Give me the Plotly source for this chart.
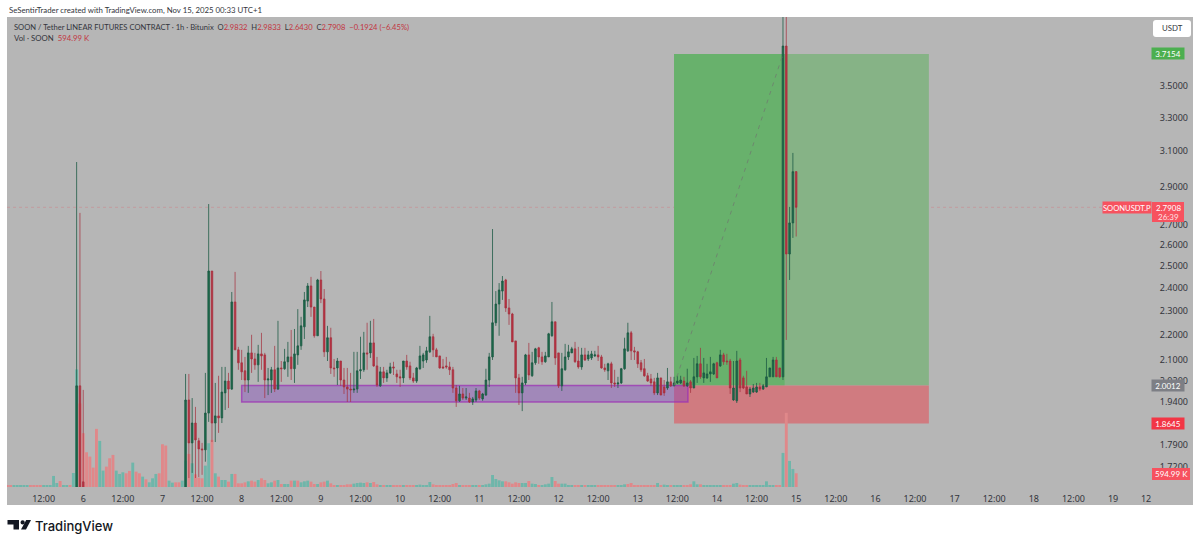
import math
from datetime import datetime, timedelta

import plotly.graph_objects as go

BASE = datetime(2025, 11, 6)

# OHLC of the hourly bars: the three listing bars, then hour 31 onward (hours counted from Nov 6 00:00)
candle_hours = [-2, -1, 0] + list(range(31, 217))

opens = [1.60, 2.000, 1.672,
    1.62,1.948,1.798,1.866,1.805,1.778,1.775,1.901,2.478,1.866,
    1.891,1.884,1.974,2.018,1.988,2.339,2.139,2.088,2.057,2.022,
    2.127,2.103,2.080,2.123,2.119,2.022,2.022,2.061,1.988,2.068,
    2.065,2.092,2.111,2.065,2.119,2.155,2.233,2.343,2.410,2.317,
    2.196,2.437,2.352,2.131,2.188,2.068,2.068,2.095,2.022,1.996,
    1.988,1.985,1.988,2.057,2.061,2.127,2.127,2.167,2.076,2.000,
    2.053,2.030,2.049,2.072,2.045,2.034,2.030,2.095,2.076,2.030,
    2.018,2.065,2.095,2.099,2.131,2.192,2.139,2.115,2.072,2.076,
    2.072,2.061,1.992,1.945,1.970,1.955,1.955,1.941,1.948,1.981,
    1.952,1.966,2.022,2.111,2.250,2.330,2.387,2.437,2.313,2.287,
    2.175,2.030,1.974,2.011,2.119,2.038,2.088,2.147,2.111,2.092,
    2.111,2.196,2.254,2.127,2.000,2.061,2.111,2.127,2.143,2.095,
    2.072,2.119,2.103,2.107,2.115,2.119,2.111,2.068,2.057,2.084,
    2.011,2.007,2.011,2.065,2.135,2.208,2.135,2.131,2.088,2.065,
    2.038,2.026,2.015,1.974,2.030,1.996,1.992,2.015,2.000,2.011,
    2.011,2.018,2.000,2.015,1.992,2.034,2.084,2.030,2.030,2.045,
    2.045,2.088,2.076,2.119,2.095,2.095,1.948,1.945,2.099,2.030,
    1.996,1.970,1.977,1.977,1.996,1.988,1.996,2.034,2.034,2.099,
    2.068,2.034,3.771,2.558,2.711,2.9832]

highs = [3.037, 2.762, 1.985,
    2.045,2.045,1.955,1.923,1.815,1.798,2.049,2.808,2.478,2.011,
    2.038,2.072,2.072,2.049,2.383,2.474,2.151,2.139,2.111,2.155,
    2.200,2.127,2.159,2.208,2.127,2.068,2.072,2.155,2.258,2.095,
    2.143,2.171,2.220,2.224,2.308,2.275,2.383,2.423,2.451,2.317,
    2.442,2.478,2.396,2.237,2.229,2.103,2.107,2.095,2.068,2.068,
    2.049,2.131,2.131,2.192,2.212,2.250,2.258,2.266,2.111,2.072,
    2.072,2.061,2.088,2.092,2.061,2.061,2.095,2.119,2.092,2.049,
    2.072,2.155,2.127,2.151,2.279,2.204,2.147,2.115,2.103,2.111,
    2.092,2.072,2.003,2.000,1.992,1.992,1.974,1.959,1.992,1.985,
    1.974,2.065,2.127,2.680,2.387,2.423,2.455,2.442,2.352,2.292,
    2.175,2.045,2.034,2.123,2.167,2.131,2.147,2.151,2.131,2.131,
    2.208,2.339,2.254,2.127,2.127,2.163,2.159,2.151,2.171,2.151,
    2.147,2.147,2.135,2.135,2.135,2.155,2.119,2.084,2.088,2.092,
    2.061,2.034,2.068,2.188,2.250,2.216,2.151,2.135,2.099,2.103,
    2.049,2.045,2.030,2.049,2.030,2.022,2.068,2.034,2.034,2.038,
    2.038,2.034,2.065,2.022,2.107,2.115,2.147,2.107,2.084,2.111,
    2.088,2.092,2.139,2.127,2.123,2.103,2.095,2.135,2.107,2.038,
    2.057,1.996,2.007,2.011,2.011,2.007,2.107,2.068,2.111,2.111,
    2.068,4.20,4.15,2.793,3.089,2.9833]

lows = [1.55, 1.58, 1.58,
    1.60,1.684,1.700,1.684,1.687,1.694,1.736,1.870,1.801,1.801,
    1.832,1.866,1.912,1.919,1.985,2.139,2.061,2.022,1.977,1.974,
    2.049,2.061,2.015,2.061,1.955,1.966,1.974,1.977,1.985,2.015,
    2.061,2.034,2.022,2.011,2.080,2.139,2.183,2.317,2.275,2.188,
    2.196,2.334,2.111,2.095,2.045,2.034,2.003,2.000,1.970,1.941,
    1.941,1.974,1.974,2.026,2.053,2.061,2.107,2.072,1.996,1.996,
    2.011,2.015,2.045,2.041,2.011,1.996,2.011,2.061,2.022,2.011,
    2.011,2.061,2.068,2.088,2.127,2.111,2.111,2.065,2.065,2.065,
    2.041,1.974,1.923,1.941,1.948,1.948,1.937,1.930,1.941,1.948,
    1.945,1.963,1.996,2.099,2.237,2.196,2.348,2.296,2.241,2.171,
    1.974,1.930,1.908,2.003,2.022,2.034,2.080,2.084,2.080,2.088,
    2.111,2.192,2.080,1.992,1.981,2.057,2.099,2.127,2.088,2.065,
    2.061,2.095,2.095,2.099,2.111,2.095,2.065,2.053,2.022,1.992,
    1.996,1.992,2.007,2.061,2.131,2.099,2.099,2.068,2.053,2.034,
    2.015,2.000,1.966,1.966,1.966,1.963,1.985,1.996,2.000,2.007,
    2.007,1.996,1.996,1.974,1.992,2.011,2.026,2.011,2.026,2.015,
    2.041,2.030,2.072,2.080,2.080,1.970,1.945,1.937,1.977,1.988,
    1.970,1.959,1.974,1.974,1.981,1.985,1.996,2.034,2.034,2.034,
    2.030,2.022,2.179,2.437,2.636,2.6430]

closes = [2.000, 1.62, 1.62,
    1.948,1.798,1.866,1.808,1.778,1.775,1.901,2.478,1.866,1.891,
    1.884,1.977,2.018,1.988,2.339,2.139,2.088,2.053,2.022,2.127,
    2.103,2.080,2.123,2.115,2.022,2.026,2.061,1.988,2.068,2.065,
    2.092,2.111,2.065,2.123,2.155,2.237,2.348,2.410,2.317,2.196,
    2.437,2.352,2.131,2.188,2.068,2.065,2.095,2.022,1.996,1.988,
    1.985,1.988,2.057,2.061,2.127,2.123,2.167,2.076,2.003,2.053,
    2.030,2.049,2.072,2.068,2.034,2.030,2.095,2.072,2.030,2.018,
    2.068,2.115,2.119,2.135,2.192,2.139,2.111,2.068,2.068,2.072,
    2.061,1.992,1.945,1.970,1.955,1.959,1.941,1.952,1.981,1.955,
    1.970,2.022,2.111,2.250,2.330,2.392,2.432,2.313,2.287,2.171,
    2.030,1.974,2.011,2.119,2.041,2.088,2.143,2.111,2.092,2.115,
    2.204,2.254,2.107,2.000,2.065,2.111,2.131,2.143,2.092,2.072,
    2.119,2.099,2.119,2.123,2.119,2.111,2.068,2.061,2.084,2.011,
    2.007,2.011,2.065,2.143,2.208,2.135,2.131,2.084,2.061,2.038,
    2.018,2.011,1.974,2.030,1.966,1.974,2.015,2.000,2.011,2.018,
    2.022,2.000,2.011,1.992,2.034,2.084,2.034,2.049,2.045,2.053,
    2.084,2.030,2.119,2.092,2.092,1.992,1.992,2.095,1.992,1.992,
    1.970,1.988,1.992,1.996,1.988,2.000,2.034,2.068,2.099,2.034,
    2.034,3.771,2.558,2.711,2.983,2.7908]

# Hourly volume in thousands, one value per hour from hour -23, with its bar side
volume_start_hour = -23
volume_k = [
    73,87,58,58,58,58,87,58,44,44,
    44,73,44,73,479,174,261,73,44,87,
    609,5104,3625,2335,1508,1320,841,2523,2001,711,
    885,1247,1392,711,566,638,595,696,1059,667,
    595,450,334,203,377,566,595,1856,1798,276,
    189,203,203,276,1146,1436,1030,551,406,377,
    928,1900,2045,595,450,305,305,232,566,566,
    160,160,203,247,276,232,305,377,305,160,
    203,276,305,131,131,131,276,276,276,203,
    247,276,232,131,131,203,232,276,160,87,
    87,73,87,116,116,145,174,189,174,203,
    174,218,116,73,58,58,58,58,58,58,
    58,87,73,58,73,102,58,73,218,116,
    87,73,87,73,58,131,174,87,73,44,
    44,44,58,44,58,116,145,522,348,290,
    247,247,203,145,203,174,174,174,261,145,
    131,58,44,116,145,435,261,145,145,145,
    73,58,44,58,73,58,58,44,58,73,
    73,58,58,87,58,58,73,116,131,174,
    73,44,44,73,73,73,73,174,73,102,
    87,58,73,73,44,44,87,116,247,116,
    116,58,73,87,73,58,58,58,58,87,
    145,174,102,73,58,44,58,58,58,73,
    247,73,58,44,44,1479,3219,1131,783,594.99]
volume_side = "".join([
    "rrtttttrrr", "rtttttrttr", "ttrrrrrrtt", "rrrtttrrtr",
    "rtrtttrrrt", "trrttrtrrr", "ttrtrttrtr", "rrrtrrtrrt",
    "trtrttrtrt", "ttrrtrrtrr", "trrrrttttr", "trrtrttrrr",
    "trrrtttttr", "rrrrrrrtrr", "rttrtttttt", "trrrrrttrt",
    "trttttrrtt", "ttrrtrtttr", "rrrrrtttrr", "rrrrrrrtrt",
    "trtttrrrtt", "rttttttrrr", "ttrrrttttt", "tttrrtrttr",
])

# Axis labels
price_ticks = [3.5, 3.3, 3.1, 2.9, 2.7, 2.6, 2.5, 2.4, 2.3, 2.2, 2.1, 2.02, 1.94, 1.79, 1.72]
time_tick_hours = [-12, 0, 12, 24, 36, 48, 60, 72, 84, 96, 108, 120, 132, 144, 156, 168, 180, 192, 204,
                   216, 228, 240, 252, 264, 276, 288, 300, 312, 322]
time_tick_labels = ["12:00", "6", "12:00", "7", "12:00", "8", "12:00", "9", "12:00", "10", "12:00", "11",
                    "12:00", "12", "12:00", "13", "12:00", "14", "12:00", "15", "12:00", "16", "12:00",
                    "17", "12:00", "18", "12:00", "19", "12"]

# Trade levels
entry_price = 2.0012
target_price = 3.7154
stop_price = 1.8645
last_price = 2.7908
zone_top = 2.0012
zone_bottom = 1.941

GREEN_BODY = "#1c6a4a"
GREEN_LINE = "rgba(28,90,68,0.78)"
RED_BODY = "#b83141"
RED_LINE = "rgba(165,48,62,0.72)"
VOL_UP = "#6fb6aa"
VOL_DOWN = "#e0888a"
PANEL = "#b6b6b6"
TEXT = "#33353c"
W, H = 1200, 545
X0, X1, Y0, Y1 = 7, 1151, 17, 487
UI_FONT = "Lato"


def stamp(hour):
    return BASE + timedelta(hours=hour)


def px(x):
    return x / W


def py(y):
    return 1 - y / H


candle_x = [stamp(h) for h in candle_hours]
volume_x = [stamp(volume_start_hour + i) for i in range(len(volume_k))]
volume_colors = [VOL_UP if s == "t" else VOL_DOWN for s in volume_side]

fig = go.Figure()
fig.add_trace(go.Bar(
    x=volume_x, y=volume_k, marker=dict(color=volume_colors, line_width=0),
    xaxis="x", yaxis="y", hoverinfo="skip",
))
fig.add_trace(go.Candlestick(
    x=candle_x, open=opens, high=highs, low=lows, close=closes,
    xaxis="x", yaxis="y2", whiskerwidth=0,
    increasing=dict(line=dict(color=GREEN_LINE, width=1), fillcolor=GREEN_BODY),
    decreasing=dict(line=dict(color=RED_LINE, width=1), fillcolor=RED_BODY),
    hoverinfo="skip",
))
# Dashed path of the trade from entry up to the target
fig.add_trace(go.Scatter(
    x=[stamp(179), stamp(212)], y=[entry_price, target_price],
    xaxis="x", yaxis="y2", mode="lines", hoverinfo="skip",
    line=dict(color="rgba(110,125,110,0.8)", width=1, dash="4px,5px"),
))


def zone(h0, h1, p0, p1, fill, line=None):
    return dict(
        type="rect", xref="x", yref="y2", layer="below",
        x0=stamp(h0), x1=stamp(h1), y0=p0, y1=p1, fillcolor=fill,
        line=dict(width=1.5 if line else 0, color=line or "rgba(0,0,0,0)"),
    )


def logo_path(points):
    head, *rest = points
    body = " ".join(f"L {px(x)} {py(y)}" for x, y in rest)
    return f"M {px(head[0])} {py(head[1])} {body} Z"


shapes = [
    dict(type="rect", xref="paper", yref="paper", layer="below",
         x0=px(7), x1=px(1193), y0=py(505), y1=py(17), fillcolor=PANEL, line_width=0),
    zone(179, 256.2, entry_price, target_price, "#86b386"),
    zone(179, 212.5, entry_price, target_price, "#68b16c"),
    zone(179, 256.2, stop_price, entry_price, "#d07b80"),
    zone(48, 183.2, zone_bottom, zone_top, "rgba(126,60,190,0.38)", "rgba(156,50,180,0.75)"),
    dict(type="line", xref="paper", yref="y2", layer="below",
         x0=px(X0), x1=px(X1), y0=last_price, y1=last_price,
         line=dict(color="rgba(225,100,110,0.3)", width=1, dash="dot")),
    # Currency button above the price scale
    dict(type="path", xref="paper", yref="paper", layer="above", fillcolor="#ffffff", line_width=0,
         path=(f"M {px(1156)} {py(20)} L {px(1188)} {py(20)} Q {px(1191)} {py(20)} {px(1191)} {py(23)} "
               f"L {px(1191)} {py(34)} Q {px(1191)} {py(37)} {px(1188)} {py(37)} L {px(1156)} {py(37)} "
               f"Q {px(1153)} {py(37)} {px(1153)} {py(34)} L {px(1153)} {py(23)} Q {px(1153)} {py(20)} {px(1156)} {py(20)} Z")),
    # TradingView mark
    dict(type="path", xref="paper", yref="paper", fillcolor="#131722", line_width=0,
         path=logo_path([(7.5, 520), (19, 520), (19, 529.5), (13.5, 529.5), (13.5, 524.5), (7.5, 524.5)])),
    dict(type="circle", xref="paper", yref="paper", fillcolor="#131722", line_width=0,
         x0=px(20.5), x1=px(24.8), y0=py(524.6), y1=py(520.3)),
    dict(type="path", xref="paper", yref="paper", fillcolor="#131722", line_width=0,
         path=logo_path([(26.2, 520), (31, 520), (26, 529.5), (21, 529.5)])),
    dict(type="rect", xref="paper", yref="paper", layer="above", fillcolor="#f7525f", line_width=0,
         x0=px(1152), x1=px(1184), y0=py(222), y1=py(202)),
    dict(type="rect", xref="paper", yref="paper", layer="above", fillcolor="#f7525f", line_width=0,
         x0=px(1152), x1=px(1190), y0=py(480), y1=py(468)),
]

RED_TXT = "#c2353f"


def text(x, y, s, size=7.8, color=TEXT, anchor="left", family=UI_FONT, weight=None):
    font = dict(size=size, color=color, family=family)
    if weight:
        font["weight"] = weight
    return dict(
        xref="paper", yref="paper", x=px(x), y=py(y), text=s, showarrow=False,
        xanchor=anchor, yanchor="middle", font=font,
    )


def tag(x0, x1, price, s, bg, size=8.0, height=11):
    return dict(
        xref="paper", yref="y2", x=px((x0 + x1) / 2), y=math.log10(price), text=s, showarrow=False,
        xanchor="center", yanchor="middle", width=x1 - x0, height=height, bgcolor=bg, borderpad=0,
        font=dict(size=size, color="#ffffff", family=UI_FONT),
    )


def red(s):
    return f'<span style="color:{RED_TXT}">{s}</span>'


annotations = [
    text(7, 9.5, "SeSentirTrader created with TradingView.com, Nov 15, 2025 00:33 UTC+1"),
    text(12, 27,
         "SOON / Tether LINEAR FUTURES CONTRACT · 1h · Bitunix  O" + red("2.9832") + "  H" + red("2.9833")
         + "  L" + red("2.6430") + "  C" + red("2.7908") + "  " + red("−0.1924 (−6.45%)"), size=7.6),
    text(12, 38, "Vol · SOON  " + red("594.99 K")),
    text(1172, 28.5, "USDT", anchor="center"),
    tag(1152, 1184, target_price, "3.7154", "#4caf50"),
    tag(1152, 1184, entry_price, "2.0012", "#7d7f85"),
    tag(1152, 1184, stop_price, "1.8645", "#f23645"),
    tag(1103, 1151, last_price, "SOONUSDT.P", "#f7525f", size=7.6),
    text(1168, 207.5, "2.7908", size=8, color="#ffffff", anchor="center"),
    text(1168, 217, "26:39", size=8, color="#ffe0e3", anchor="center"),
    text(1171, 474, "594.99 K", size=8, color="#ffffff", anchor="center"),
    text(33, 525.5, "TradingView", size=13, color="#131722", family="Inter", weight=500),
]

fig.update_layout(
    width=W, height=H, margin=dict(l=0, r=0, t=0, b=0),
    paper_bgcolor="#ffffff", plot_bgcolor=PANEL, showlegend=False,
    bargap=0.12, shapes=shapes, annotations=annotations,
    font=dict(family="Noto Sans", color=TEXT),
    xaxis=dict(
        domain=[px(X0), px(X1)], type="date",
        range=[stamp(-23.1), stamp(323.5)], rangeslider=dict(visible=False),
        tickmode="array", tickvals=[stamp(h) for h in time_tick_hours], ticktext=time_tick_labels,
        showgrid=False, zeroline=False, showline=False, ticks="outside", ticklen=3,
        tickcolor="rgba(0,0,0,0)", tickfont=dict(size=9, color=TEXT), tickangle=0,
    ),
    yaxis=dict(
        domain=[py(Y1), py(Y0)], range=[0, 20400], visible=False, fixedrange=True,
    ),
    yaxis2=dict(
        domain=[py(Y1), py(Y0)], overlaying="y", side="right", type="log", anchor="x",
        range=[math.log10(1.656), math.log10(3.981)],
        tickmode="array", tickvals=price_ticks, ticktext=[f"{t:.4f}" for t in price_ticks],
        showgrid=False, zeroline=False, showline=False, ticks="outside", ticklen=6,
        tickcolor="rgba(0,0,0,0)", tickfont=dict(size=9, color=TEXT),
    ),
)

fig.write_html("out.html")
